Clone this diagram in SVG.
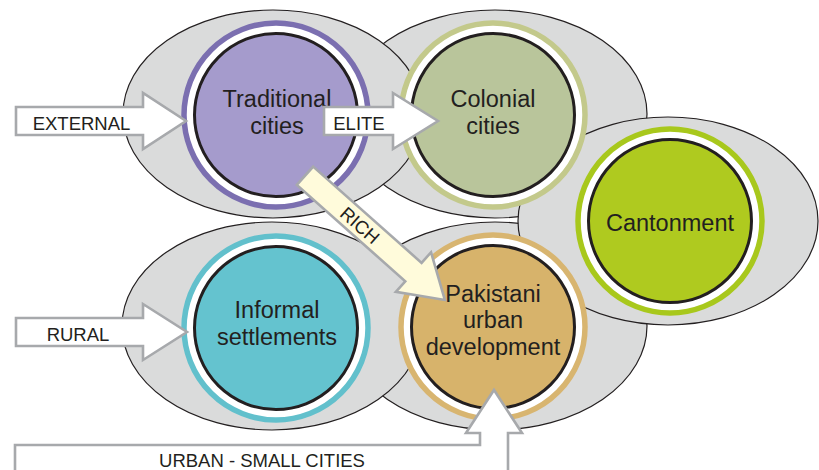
<svg xmlns="http://www.w3.org/2000/svg" width="819" height="470" viewBox="0 0 819 470">
<style>
.zone{fill:#dadbdb;stroke:#231f20;stroke-width:1.2}
.ring{fill:#ffffff;stroke-width:5.5}
.core{stroke:#231f20;stroke-width:3}
.lbl{font-family:"Liberation Sans",Arial,sans-serif;font-size:23.5px;fill:#231f20;text-anchor:middle}
.arr{fill:#ffffff;stroke:#a7a9ac;stroke-width:2.6;stroke-linejoin:miter}
.alb{font-family:"Liberation Sans",Arial,sans-serif;font-size:18.5px;fill:#231f20;text-anchor:middle}
</style>
<rect width="819" height="470" fill="#ffffff"/>
<g id="zones">
<ellipse class="zone" cx="495" cy="114" rx="152" ry="104"/>
<ellipse class="zone" cx="495" cy="326" rx="152" ry="104"/>
<ellipse class="zone" cx="273" cy="114" rx="150" ry="104"/>
<ellipse class="zone" cx="272" cy="326" rx="150" ry="104"/>
<ellipse class="zone" cx="668" cy="221" rx="150" ry="104"/>
</g>
<g id="node-traditional">
<circle class="ring" cx="276" cy="115" r="92" stroke="#7b6fb0"/>
<circle class="core" cx="276" cy="115" r="81.5" fill="#a59bcc"/>
<text class="lbl" x="277" y="107">Traditional</text>
<text class="lbl" x="277" y="134">cities</text>
</g>
<g id="node-colonial">
<circle class="ring" cx="493" cy="115" r="92" stroke="#c3c98b"/>
<circle class="core" cx="493" cy="115" r="81.5" fill="#b9c59b"/>
<text class="lbl" x="493" y="107">Colonial</text>
<text class="lbl" x="493" y="134">cities</text>
</g>
<g id="node-cantonment">
<circle class="ring" cx="670" cy="221" r="92" stroke="#a8c81c"/>
<circle class="core" cx="670" cy="221" r="81.5" fill="#afca1f"/>
<text class="lbl" x="670" y="231">Cantonment</text>
</g>
<g id="node-informal">
<circle class="ring" cx="276" cy="328" r="92" stroke="#62c0cc"/>
<circle class="core" cx="276" cy="328" r="81.5" fill="#64c3cf"/>
<text class="lbl" x="277" y="318">Informal</text>
<text class="lbl" x="277" y="345">settlements</text>
</g>
<g id="node-pakistani">
<circle class="ring" cx="493" cy="327" r="92" stroke="#d8b570"/>
<circle class="core" cx="493" cy="327" r="81.5" fill="#d7b36b"/>
<text class="lbl" x="493" y="302">Pakistani</text>
<text class="lbl" x="493" y="328">urban</text>
<text class="lbl" x="493" y="355">development</text>
</g>
<g id="connectors">
<g id="arrow-external">
<polygon class="arr" points="16,107 143,107 143,93 186,121 143,149 143,135 16,135"/>
<text class="alb" x="81.5" y="129.5">EXTERNAL</text>
</g>
<g id="arrow-elite">
<polygon class="arr" points="324,107 393,107 393,93 438,121 393,149 393,135 324,135"/>
<text class="alb" x="359" y="129.5">ELITE</text>
</g>
<g id="arrow-rich" transform="translate(305,175.8) rotate(41.6)">
<polygon class="arr" fill="#fffbdb" style="fill:#fffbdb" points="0,-12.3 145,-12.3 145,-26.5 187,0 145,26.5 145,12.3 0,12.3"/>
<text class="alb" x="74" y="7">RICH</text>
</g>
<g id="arrow-rural">
<polygon class="arr" points="16,318 143,318 143,304 187,332 143,360 143,346 16,346"/>
<text class="alb" x="78" y="341">RURAL</text>
</g>
<g id="arrow-urban">
<polygon class="arr" points="15,476 15,445 480,445 480,433 466,433 494,390 522,433 508,433 508,476"/>
<text class="alb" x="262" y="467">URBAN - SMALL CITIES</text>
</g>
</g>
</svg>
